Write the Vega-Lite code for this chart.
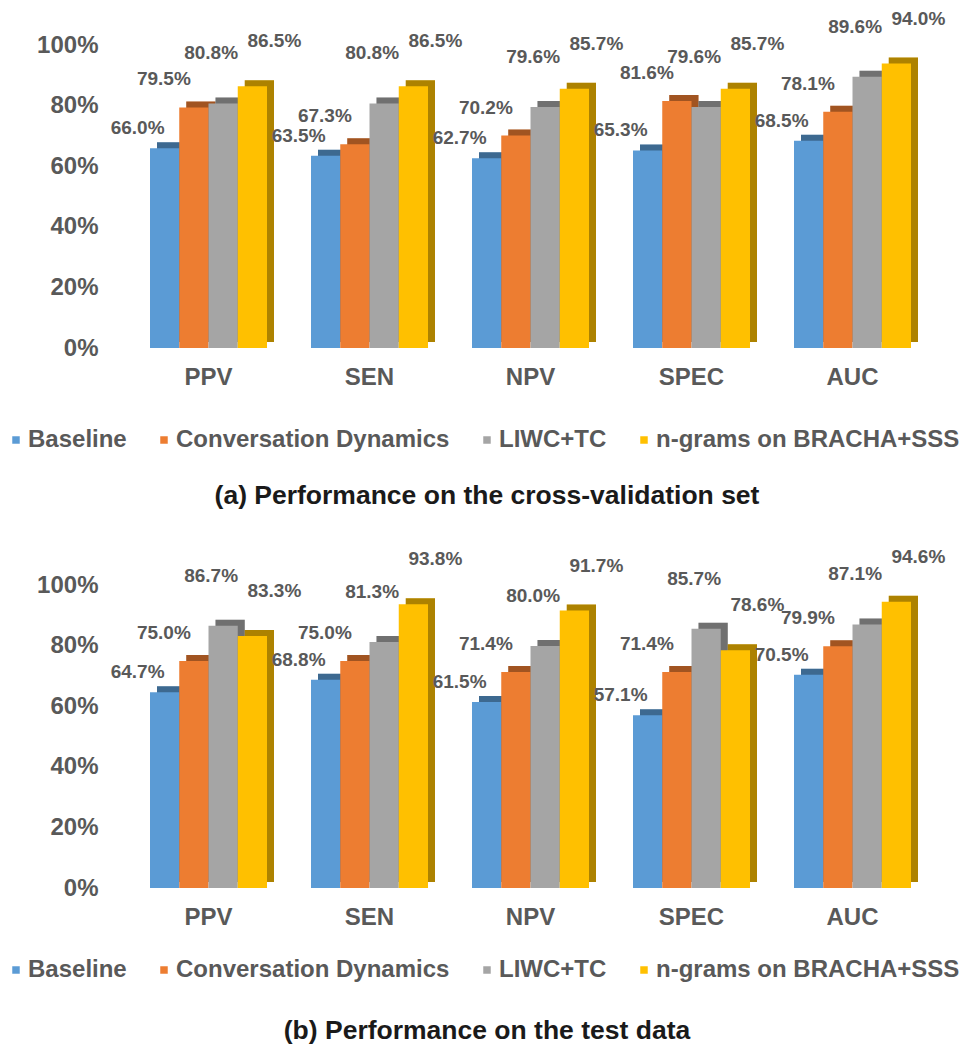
{
  "$schema": "https://vega.github.io/schema/vega-lite/v6.json",
  "autosize": {"type": "pad"},
  "padding": {"left": 4, "top": 0, "right": 5, "bottom": 5},
  "background": "white",
  "config": {
    "font": "Liberation Sans",
    "view": {"stroke": null},
    "axis": {"grid": false, "domain": false, "ticks": false, "title": null, "labelFont": "Liberation Sans", "labelFontWeight": "bold", "labelFontSize": 24, "labelColor": "#595959"},
    "legend": {"padding": 0},
    "header": {"title": null, "labelOrient": "bottom", "labelFont": "Liberation Sans", "labelFontSize": 24, "labelFontWeight": "bold", "labelColor": "#595959", "labelPadding": 18},
    "concat": {"spacing": 30}
  },
  "datasets": {
    "cv": [
      {"metric": "PPV", "model": "Baseline", "value": 0.660},
      {"metric": "PPV", "model": "Conversation Dynamics", "value": 0.795},
      {"metric": "PPV", "model": "LIWC+TC", "value": 0.808},
      {"metric": "PPV", "model": "n-grams on BRACHA+SSS", "value": 0.865},
      {"metric": "SEN", "model": "Baseline", "value": 0.635},
      {"metric": "SEN", "model": "Conversation Dynamics", "value": 0.673},
      {"metric": "SEN", "model": "LIWC+TC", "value": 0.808},
      {"metric": "SEN", "model": "n-grams on BRACHA+SSS", "value": 0.865},
      {"metric": "NPV", "model": "Baseline", "value": 0.627},
      {"metric": "NPV", "model": "Conversation Dynamics", "value": 0.702},
      {"metric": "NPV", "model": "LIWC+TC", "value": 0.796},
      {"metric": "NPV", "model": "n-grams on BRACHA+SSS", "value": 0.857},
      {"metric": "SPEC", "model": "Baseline", "value": 0.653},
      {"metric": "SPEC", "model": "Conversation Dynamics", "value": 0.816},
      {"metric": "SPEC", "model": "LIWC+TC", "value": 0.796},
      {"metric": "SPEC", "model": "n-grams on BRACHA+SSS", "value": 0.857},
      {"metric": "AUC", "model": "Baseline", "value": 0.685},
      {"metric": "AUC", "model": "Conversation Dynamics", "value": 0.781},
      {"metric": "AUC", "model": "LIWC+TC", "value": 0.896},
      {"metric": "AUC", "model": "n-grams on BRACHA+SSS", "value": 0.940}
    ],
    "test": [
      {"metric": "PPV", "model": "Baseline", "value": 0.647},
      {"metric": "PPV", "model": "Conversation Dynamics", "value": 0.750},
      {"metric": "PPV", "model": "LIWC+TC", "value": 0.867},
      {"metric": "PPV", "model": "n-grams on BRACHA+SSS", "value": 0.833},
      {"metric": "SEN", "model": "Baseline", "value": 0.688},
      {"metric": "SEN", "model": "Conversation Dynamics", "value": 0.750},
      {"metric": "SEN", "model": "LIWC+TC", "value": 0.813},
      {"metric": "SEN", "model": "n-grams on BRACHA+SSS", "value": 0.938},
      {"metric": "NPV", "model": "Baseline", "value": 0.615},
      {"metric": "NPV", "model": "Conversation Dynamics", "value": 0.714},
      {"metric": "NPV", "model": "LIWC+TC", "value": 0.800},
      {"metric": "NPV", "model": "n-grams on BRACHA+SSS", "value": 0.917},
      {"metric": "SPEC", "model": "Baseline", "value": 0.571},
      {"metric": "SPEC", "model": "Conversation Dynamics", "value": 0.714},
      {"metric": "SPEC", "model": "LIWC+TC", "value": 0.857},
      {"metric": "SPEC", "model": "n-grams on BRACHA+SSS", "value": 0.786},
      {"metric": "AUC", "model": "Baseline", "value": 0.705},
      {"metric": "AUC", "model": "Conversation Dynamics", "value": 0.799},
      {"metric": "AUC", "model": "LIWC+TC", "value": 0.871},
      {"metric": "AUC", "model": "n-grams on BRACHA+SSS", "value": 0.946}
    ]
  },
  "resolve": {"scale": {"color": "independent"}, "legend": {"color": "independent"}},
  "vconcat": [
    {
      "data": {"name": "cv"},
      "title": {"text": "(a) Performance on the cross-validation set", "orient": "bottom", "anchor": "middle", "dx": 5, "offset": 31, "fontSize": 26.5, "fontWeight": "bold", "color": "#1a1a1a", "font": "Liberation Sans"},
      "facet": {"column": {"field": "metric", "type": "nominal", "sort": ["PPV", "SEN", "NPV", "SPEC", "AUC"]}},
      "spacing": 44,
      "bounds": "flush",
      "spec": {
        "width": 117, "height": 348,
        "encoding": {
          "x": {"field": "model", "type": "nominal", "sort": ["Baseline", "Conversation Dynamics", "LIWC+TC", "n-grams on BRACHA+SSS"], "scale": {"paddingInner": 0, "paddingOuter": 0}, "axis": null},
          "y": {"field": "value", "type": "quantitative", "scale": {"domain": [0, 1.15], "nice": false}, "axis": {"values": [0, 0.2, 0.4, 0.6, 0.8, 1], "format": ".0%", "labelPadding": 52}},
          "color": {"field": "model", "type": "nominal", "scale": {"domain": ["Baseline", "Conversation Dynamics", "LIWC+TC", "n-grams on BRACHA+SSS"], "range": ["#5b9bd5", "#ed7d31", "#a5a5a5", "#ffc000"]}, "legend": {"orient": "none", "legendX": -146, "legendY": 428, "direction": "horizontal", "title": null, "symbolType": "square", "symbolSize": 56, "symbolStrokeWidth": 0, "labelFontSize": 24, "labelFontWeight": "bold", "labelColor": "#595959", "labelFont": "Liberation Sans", "labelOffset": 0, "labelLimit": 400, "columnPadding": 25}}
        },
        "layer": [
          {"mark": {"type": "bar", "xOffset": 7, "yOffset": -6}},
          {"mark": {"type": "bar", "xOffset": 7, "yOffset": -6, "opacity": 0.32}, "encoding": {"color": {"value": "#000000"}}},
          {"mark": {"type": "bar"}},
          {"transform": [{"filter": "datum.model === 'Baseline'"}], "mark": {"type": "text", "dx": -27, "dy": -20, "fontSize": 19, "fontWeight": "bold"}, "encoding": {"text": {"field": "value", "format": ".1%"}, "color": {"value": "#595959"}}},
          {"transform": [{"filter": "datum.model === 'Conversation Dynamics'"}], "mark": {"type": "text", "dx": -30, "dy": -28, "fontSize": 19, "fontWeight": "bold"}, "encoding": {"text": {"field": "value", "format": ".1%"}, "color": {"value": "#595959"}}},
          {"transform": [{"filter": "datum.model === 'LIWC+TC'"}], "mark": {"type": "text", "dx": -12, "dy": -50, "fontSize": 19, "fontWeight": "bold"}, "encoding": {"text": {"field": "value", "format": ".1%"}, "color": {"value": "#595959"}}},
          {"transform": [{"filter": "datum.model === 'n-grams on BRACHA+SSS'"}], "mark": {"type": "text", "dx": 22, "dy": -45, "fontSize": 19, "fontWeight": "bold"}, "encoding": {"text": {"field": "value", "format": ".1%"}, "color": {"value": "#595959"}}}
        ]
      }
    },
    {
      "data": {"name": "test"},
      "title": {"text": "(b) Performance on the test data", "orient": "bottom", "anchor": "middle", "dx": 5, "offset": 36, "fontSize": 26.5, "fontWeight": "bold", "color": "#1a1a1a", "font": "Liberation Sans"},
      "facet": {"column": {"field": "metric", "type": "nominal", "sort": ["PPV", "SEN", "NPV", "SPEC", "AUC"]}},
      "spacing": 44,
      "bounds": "flush",
      "spec": {
        "width": 117, "height": 348,
        "encoding": {
          "x": {"field": "model", "type": "nominal", "sort": ["Baseline", "Conversation Dynamics", "LIWC+TC", "n-grams on BRACHA+SSS"], "scale": {"paddingInner": 0, "paddingOuter": 0}, "axis": null},
          "y": {"field": "value", "type": "quantitative", "scale": {"domain": [0, 1.15], "nice": false}, "axis": {"values": [0, 0.2, 0.4, 0.6, 0.8, 1], "format": ".0%", "labelPadding": 52}},
          "color": {"field": "model", "type": "nominal", "scale": {"domain": ["Baseline", "Conversation Dynamics", "LIWC+TC", "n-grams on BRACHA+SSS"], "range": ["#5b9bd5", "#ed7d31", "#a5a5a5", "#ffc000"]}, "legend": {"orient": "none", "legendX": -146, "legendY": 418, "direction": "horizontal", "title": null, "symbolType": "square", "symbolSize": 56, "symbolStrokeWidth": 0, "labelFontSize": 24, "labelFontWeight": "bold", "labelColor": "#595959", "labelFont": "Liberation Sans", "labelOffset": 0, "labelLimit": 400, "columnPadding": 25}}
        },
        "layer": [
          {"mark": {"type": "bar", "xOffset": 7, "yOffset": -6}},
          {"mark": {"type": "bar", "xOffset": 7, "yOffset": -6, "opacity": 0.32}, "encoding": {"color": {"value": "#000000"}}},
          {"mark": {"type": "bar"}},
          {"transform": [{"filter": "datum.model === 'Baseline'"}], "mark": {"type": "text", "dx": -27, "dy": -20, "fontSize": 19, "fontWeight": "bold"}, "encoding": {"text": {"field": "value", "format": ".1%"}, "color": {"value": "#595959"}}},
          {"transform": [{"filter": "datum.model === 'Conversation Dynamics'"}], "mark": {"type": "text", "dx": -30, "dy": -28, "fontSize": 19, "fontWeight": "bold"}, "encoding": {"text": {"field": "value", "format": ".1%"}, "color": {"value": "#595959"}}},
          {"transform": [{"filter": "datum.model === 'LIWC+TC'"}], "mark": {"type": "text", "dx": -12, "dy": -50, "fontSize": 19, "fontWeight": "bold"}, "encoding": {"text": {"field": "value", "format": ".1%"}, "color": {"value": "#595959"}}},
          {"transform": [{"filter": "datum.model === 'n-grams on BRACHA+SSS'"}], "mark": {"type": "text", "dx": 22, "dy": -45, "fontSize": 19, "fontWeight": "bold"}, "encoding": {"text": {"field": "value", "format": ".1%"}, "color": {"value": "#595959"}}}
        ]
      }
    }
  ]
}
